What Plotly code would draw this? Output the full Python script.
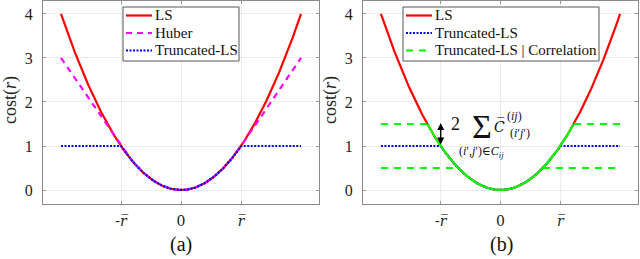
import numpy as np
import plotly.graph_objects as go
from plotly.subplots import make_subplots

# ---- data (in units of r_bar) ----
r_bar = 1.0
r_max = 2.0
corr_hi = 1.5      # TLS threshold + correlation term
corr_lo = 0.5      # TLS threshold - correlation term
r = np.linspace(-r_max, r_max, 401)
ls = r ** 2
huber = np.where(np.abs(r) <= r_bar, r ** 2, 2 * r_bar * np.abs(r) - r_bar ** 2)
tls = np.minimum(r ** 2, r_bar ** 2)

hi_flat = np.where(np.abs(r) >= np.sqrt(corr_hi), corr_hi, np.nan)
lo_flat = np.where(np.abs(r) >= np.sqrt(corr_lo), corr_lo, np.nan)
corr_curve = np.where(np.abs(r) <= np.sqrt(corr_hi), r ** 2, np.nan)

x_tick_vals = [-1, 0, 1]
x_tick_text = ["-<i>r\u0305</i>", "0", "<i>r\u0305</i>"]
y_tick_vals = [0, 1, 2, 3, 4]
y_tick_text = ["0", "1", "2", "3", "4"]

legend_a = ["LS", "Huber", "Truncated-LS"]
legend_b = ["LS", "Truncated-LS", "Truncated-LS | Correlation"]

FONT = "Liberation Serif, DejaVu Serif, serif"
FONT2 = "DejaVu Serif, serif"
RED, MAG, BLUE, GREEN = "#ff0000", "#ff00ff", "#0000ff", "#00ff00"
STY = {
    "LS": dict(color=RED, width=2.2, dash="solid"),
    "Huber": dict(color=MAG, width=2.2, dash="6px,5px"),
    "Truncated-LS": dict(color=BLUE, width=2.2, dash="2px,1.5px"),
    "Truncated-LS | Correlation": dict(color=GREEN, width=2.2, dash="7px,6px"),
}

fig = make_subplots(rows=1, cols=2)

# left panel
fig.add_trace(go.Scatter(x=r, y=ls, mode="lines", name="LS", line=STY["LS"]), 1, 1)
fig.add_trace(go.Scatter(x=r, y=huber, mode="lines", name="Huber", line=STY["Huber"]), 1, 1)
fig.add_trace(go.Scatter(x=r, y=tls, mode="lines", name="Truncated-LS", line=STY["Truncated-LS"]), 1, 1)

# right panel
fig.add_trace(go.Scatter(x=r, y=ls, mode="lines", name="LS", line=STY["LS"]), 1, 2)
fig.add_trace(go.Scatter(x=r, y=tls, mode="lines", name="Truncated-LS", line=STY["Truncated-LS"]), 1, 2)
fig.add_trace(go.Scatter(x=r, y=hi_flat, mode="lines", name="Truncated-LS | Correlation",
                         line=STY["Truncated-LS | Correlation"]), 1, 2)
fig.add_trace(go.Scatter(x=r, y=lo_flat, mode="lines", name="Truncated-LS | Correlation",
                         line=STY["Truncated-LS | Correlation"]), 1, 2)
fig.add_trace(go.Scatter(x=r, y=corr_curve, mode="lines", name="Truncated-LS | Correlation",
                         line=dict(color=GREEN, width=2.2)), 1, 2)

W, H = 640, 259
T, B = 1, 55
plot_h = H - T - B

def px_x(p):
    return p / W

def px_y(p):
    return (H - B - p) / plot_h

axis_common = dict(showline=True, linecolor="#8a8a8a", linewidth=1, mirror="ticks",
                   ticks="inside", ticklen=3, tickcolor="#9a9a9a",
                   showgrid=True, gridcolor="#ececec", gridwidth=1, zeroline=False)

for i, (x0, x1) in enumerate([(43, 319), (363, 638)], start=1):
    fig.update_xaxes(row=1, col=i, range=[-2.3, 2.3], domain=[px_x(x0), px_x(x1)],
                     tickvals=x_tick_vals, ticktext=x_tick_text, ticklabelstandoff=4,
                     tickfont=dict(family=FONT2, size=14, color="#222"),
                     **axis_common)
    fig.update_yaxes(row=1, col=i, range=[-0.318, 4.295], domain=[0, 1],
                     tickvals=y_tick_vals, ticktext=y_tick_text, ticklabelstandoff=6,
                     tickfont=dict(family=FONT, size=16, color="#222"),
                     **axis_common)

annotations = []
shapes = []
for xc, lab, ylab_x in [(181, "(a)", 11), (501, "(b)", 331)]:
    annotations.append(dict(x=px_x(xc), y=px_y(244), xref="paper", yref="paper",
                            text=lab, showarrow=False, xanchor="center", yanchor="middle",
                            font=dict(family=FONT, size=20, color="#111")))
    annotations.append(dict(x=px_x(ylab_x), y=px_y(100), xref="paper", yref="paper",
                            text="cost(<i>r</i>)", showarrow=False, textangle=-90,
                            xanchor="center", yanchor="middle",
                            font=dict(family=FONT, size=18, color="#222")))

# correlation-term annotation (right panel)
annotations.append(dict(x=-1.0, y=1.52, ax=-1.0, ay=1.0, xref="x2", yref="y2",
                        axref="x2", ayref="y2", text="", showarrow=True,
                        arrowhead=2, arrowside="end+start", arrowsize=1, arrowwidth=1.4,
                        arrowcolor="#000"))
txt = [
    ("2", -0.758, 1.50, 18, FONT),
    ("\u03a3", -0.317, 1.45, 34, FONT),
    ("<i>C\u0305</i>", -0.02, 1.45, 14, FONT2),
    ("(<i>ij</i>)", 0.24, 1.69, 12, FONT),
    ("(<i>i</i>\u2032<i>j</i>\u2032)", 0.33, 1.29, 12, FONT),
    ("(<i>i</i>\u2032,<i>j</i>\u2032)\u2208<i>C</i><sub><i>ij</i></sub>", -0.31, 0.86, 12, FONT),
]
for t, x, y, s, f in txt:
    annotations.append(dict(x=x, y=y, xref="x2", yref="y2", text=t, showarrow=False,
                            xanchor="center", yanchor="middle",
                            font=dict(family=f, size=s, color="#111")))

# legends (box, line samples, labels)
row_y = [15.5, 33, 50.5]
for (bx0, bx1), names in [((123, 239), legend_a), ((403, 599), legend_b)]:
    shapes.append(dict(type="rect", xref="paper", yref="paper",
                       x0=px_x(bx0), x1=px_x(bx1), y0=px_y(61), y1=px_y(7),
                       fillcolor="white", line=dict(color="#555", width=1), layer="above"))
    for name, yy in zip(names, row_y):
        st = STY[name]
        shapes.append(dict(type="line", xref="paper", yref="paper",
                           x0=px_x(bx0 + 3), x1=px_x(bx0 + 29), y0=px_y(yy), y1=px_y(yy),
                           line=dict(color=st["color"], width=st["width"], dash=st["dash"]),
                           layer="above"))
        annotations.append(dict(x=px_x(bx0 + 30), y=px_y(yy), xref="paper", yref="paper",
                                text=name, showarrow=False, xanchor="left", yanchor="middle",
                                font=dict(family=FONT, size=15, color="#111")))

fig.update_layout(
    width=W, height=H,
    margin=dict(l=0, r=0, t=T, b=B, autoexpand=False),
    plot_bgcolor="white", paper_bgcolor="white",
    showlegend=False,
    annotations=annotations,
    shapes=shapes,
)

fig.write_html("out.html", config={"displayModeBar": False},
               post_script="document.body.style.margin='0';document.body.style.padding='0';")
